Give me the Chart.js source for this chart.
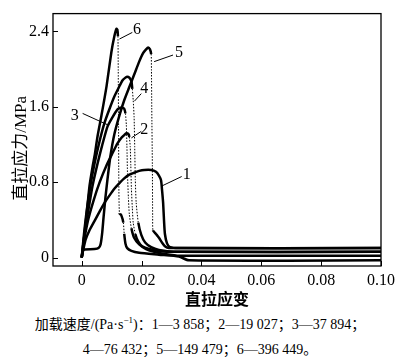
<!DOCTYPE html>
<html>
<head>
<meta charset="utf-8">
<script src="https://cdn.jsdelivr.net/npm/chart.js@4.4.0/dist/chart.umd.min.js"></script>
<style>
  html, body { margin: 0; padding: 0; background: #fff; }
  #wrap { position: relative; width: 400px; height: 358px; }
  #c { position: absolute; left: 0; top: 0; }
  .cap {
    position: absolute; left: 0; width: 400px; text-align: center;
    font: 14px 'Liberation Serif', 'Noto Sans CJK SC', serif;
    line-height: 18px; color: #000; white-space: nowrap;
  }
  .cap sup { font-size: 9px; line-height: 0; vertical-align: 6px; }
</style>
</head>
<body>
<div id="wrap">
  <canvas id="c" width="400" height="312" style="width:400px;height:312px"></canvas>
  <div class="cap" style="top:316px">加载速度/(Pa·s<sup>−1</sup>)：1—3 858；2—19 027；3—37 894；</div>
  <div class="cap" style="top:341px">4—76 432；5—149 479；6—396 449。</div>
</div>
<script>
// ── Axis ticks ────────────────────────────────────────────────────────────────
const X_TICKS  = [0, 0.02, 0.04, 0.06, 0.08, 0.10];
const X_LABELS = ['0', '0.02', '0.04', '0.06', '0.08', '0.10'];
const Y_TICKS  = [0, 0.8, 1.6, 2.4];
const Y_LABELS = ['0', '0.8', '1.6', '2.4'];

// ── Curves (strain, stress MPa) ──────────────────────────────────────────────
const strain1 = [0, 0.0007, 0.0013, 0.0026, 0.0043, 0.006, 0.0076, 0.0093, 0.0109, 0.0126, 0.0142, 0.0159, 0.0175, 0.0192, 0.0209, 0.0232, 0.0248, 0.0258, 0.0265, 0.0268, 0.0272, 0.0275, 0.0278, 0.0285, 0.0295, 0.0325, 0.1];
const stress1 = [0, 0.11, 0.19, 0.29, 0.39, 0.49, 0.58, 0.66, 0.73, 0.79, 0.84, 0.88, 0.90, 0.92, 0.93, 0.93, 0.91, 0.87, 0.82, 0.73, 0.58, 0.39, 0.25, 0.15, 0.11, 0.10, 0.10];

const strain2 = [0, 0.0007, 0.0013, 0.0023, 0.004, 0.006, 0.0083, 0.0103, 0.0119, 0.0132, 0.0142, 0.0149, 0.0156, 0.0159, 0.0162, 0.0164, 0.0166, 0.0169, 0.0172, 0.0179, 0.0189, 0.0202, 0.0225, 0.0258, 0.0308, 0.1];
const stress2 = [0, 0.15, 0.27, 0.42, 0.61, 0.80, 0.98, 1.11, 1.21, 1.27, 1.30, 1.32, 1.31, 1.28, 1.18, 0.98, 0.73, 0.53, 0.37, 0.25, 0.17, 0.12, 0.09, 0.07, 0.06, 0.06];

const strain3 = [0, 0.0007, 0.0013, 0.0023, 0.0036, 0.0053, 0.0069, 0.0086, 0.0103, 0.0119, 0.0129, 0.0136, 0.0142, 0.0146, 0.0149, 0.0151, 0.0153, 0.0156, 0.0159, 0.0166, 0.0175, 0.0192, 0.0215, 0.0242, 0.0275, 0.0325, 0.1];
const stress3 = [0, 0.19, 0.33, 0.52, 0.76, 1.00, 1.20, 1.39, 1.49, 1.57, 1.59, 1.59, 1.58, 1.53, 1.41, 1.18, 0.88, 0.63, 0.46, 0.31, 0.21, 0.14, 0.09, 0.06, 0.04, 0.02, 0.02];

const strain4 = [0, 0.0005, 0.001, 0.0018, 0.003, 0.0043, 0.006, 0.0076, 0.0093, 0.0109, 0.0123, 0.0136, 0.0146, 0.0152, 0.0159, 0.0166, 0.0169, 0.0172, 0.0175, 0.0177, 0.0179, 0.0182, 0.0189, 0.0199, 0.0212, 0.0232, 0.0258, 0.0308, 0.1];
const stress4 = [0, 0.17, 0.32, 0.53, 0.78, 1.00, 1.24, 1.43, 1.58, 1.71, 1.80, 1.88, 1.91, 1.92, 1.91, 1.87, 1.79, 1.67, 1.49, 1.18, 0.83, 0.58, 0.37, 0.24, 0.16, 0.11, 0.08, 0.06, 0.06];

const strain5 = [0, 0.0003, 0.001, 0.0043, 0.0056, 0.0063, 0.0068, 0.0073, 0.0079, 0.0086, 0.0096, 0.0109, 0.0126, 0.0142, 0.0159, 0.0175, 0.0192, 0.0205, 0.0215, 0.0222, 0.0228, 0.0232, 0.0233, 0.0234, 0.0236, 0.0237, 0.0238, 0.0248, 0.0258, 0.0268, 0.0278, 0.0291, 0.1];
const stress5 = [0, 0.07, 0.086, 0.09, 0.10, 0.14, 0.25, 0.43, 0.63, 0.83, 1.08, 1.31, 1.51, 1.67, 1.81, 1.94, 2.08, 2.17, 2.21, 2.23, 2.21, 2.16, 1.99, 1.59, 0.98, 0.43, 0.29, 0.25, 0.21, 0.16, 0.12, 0.10, 0.10];

const strain6 = [0, 0.0007, 0.0017, 0.0026, 0.0036, 0.0043, 0.0053, 0.0066, 0.0083, 0.0099, 0.0109, 0.0116, 0.0119, 0.0121, 0.0122, 0.0123, 0.0124, 0.0126, 0.0132, 0.0139, 0.0142, 0.0146, 0.0152, 0.0166, 0.0192, 0.0258, 0.0325, 0.0358, 0.1];
const stress6 = [0, 0.19, 0.48, 0.76, 0.96, 1.08, 1.29, 1.51, 1.82, 2.18, 2.35, 2.43, 2.42, 2.35, 1.99, 1.39, 0.78, 0.47, 0.45, 0.37, 0.25, 0.15, 0.10, 0.07, 0.05, 0.03, 0.01, -0.03, -0.03];

const CURVE_STRAIN = [strain1, strain2, strain3, strain4, strain5, strain6];
const CURVE_STRESS = [stress1, stress2, stress3, stress4, stress5, stress6];
const CURVE_NAMES  = ['1', '2', '3', '4', '5', '6'];

// ── Curve number labels: text anchor + leader line, in data units ────────────
const CALLOUTS = [
  { name: '1', tx: 0.0351,  ty: 0.88, from: [0.0268, 0.76], to: [0.0334, 0.86] },
  { name: '2', tx: 0.0209,  ty: 1.36, from: [0.0166, 1.27], to: [0.0199, 1.34] },
  { name: '3', tx: -0.0023, ty: 1.51, from: [0.0003, 1.53], to: [0.0086, 1.41] },
  { name: '4', tx: 0.0209,  ty: 1.79, from: [0.0176, 1.66], to: [0.0199, 1.74] },
  { name: '5', tx: 0.0325,  ty: 2.17, from: [0.0242, 2.08], to: [0.0305, 2.15] },
  { name: '6', tx: 0.0185,  ty: 2.42, from: [0.0126, 2.32], to: [0.0169, 2.39] },
];

const SERIF = "'Liberation Serif', 'Noto Sans CJK SC', serif";

// drops after the peak are recorded as sparse dots
function isDrop(c) {
  if (c.datasetIndex === 0) return false;
  return (c.p0.parsed.y - c.p1.parsed.y) > 0.1 && (c.p1.parsed.x - c.p0.parsed.x) < 0.0008;
}

const frameAndTicks = {
  id: 'frameAndTicks',
  afterDraw(chart) {
    const { ctx, chartArea: a, scales: { x, y } } = chart;
    ctx.save();
    ctx.strokeStyle = '#000';
    ctx.lineWidth = 1.3;
    ctx.strokeRect(a.left, a.top, a.right - a.left, a.bottom - a.top);
    ctx.lineWidth = 1;
    ctx.beginPath();
    X_TICKS.forEach(v => {
      const px = Math.round(x.getPixelForValue(v)) + 0.5;
      ctx.moveTo(px, a.bottom); ctx.lineTo(px, a.bottom - 5);
    });
    Y_TICKS.forEach(v => {
      const py = Math.round(y.getPixelForValue(v)) + 0.5;
      ctx.moveTo(a.left, py); ctx.lineTo(a.left + 5, py);
    });
    ctx.stroke();

    // curve callouts
    ctx.font = '16px ' + SERIF;
    ctx.fillStyle = '#000';
    ctx.textAlign = 'center';
    ctx.textBaseline = 'middle';
    CALLOUTS.forEach(c => {
      ctx.beginPath();
      ctx.moveTo(x.getPixelForValue(c.from[0]), y.getPixelForValue(c.from[1]));
      ctx.lineTo(x.getPixelForValue(c.to[0]), y.getPixelForValue(c.to[1]));
      ctx.stroke();
      ctx.fillText(c.name, x.getPixelForValue(c.tx), y.getPixelForValue(c.ty));
    });
    ctx.restore();
  }
};

new Chart(document.getElementById('c'), {
  type: 'line',
  data: {
    datasets: CURVE_NAMES.map((n, i) => ({
      label: n,
      data: CURVE_STRAIN[i].map((s, k) => ({ x: s, y: CURVE_STRESS[i][k] })),
      borderColor: '#000',
      borderWidth: 2.5,
      pointRadius: 0,
      tension: 0.2,
      fill: false,
      segment: {
        borderWidth: c => isDrop(c) ? 1 : undefined,
        borderDash: c => isDrop(c) ? [1.5, 1.5] : undefined,
      },
    })),
  },
  options: {
    responsive: false,
    animation: false,
    layout: { padding: { top: 1, right: 15, left: 0, bottom: 0 } },
    plugins: { legend: { display: false }, tooltip: { enabled: false } },
    scales: {
      x: {
        type: 'linear',
        min: -0.0096,
        max: 0.1,
        afterBuildTicks: s => { s.ticks = X_TICKS.map(v => ({ value: v })); },
        afterFit: s => { s.height = 46; },
        grid: { display: false, drawTicks: false },
        border: { display: false },
        ticks: {
          autoSkip: false, maxRotation: 0, padding: 5, color: '#000',
          font: { family: SERIF, size: 16 },
          callback: (v, i) => X_LABELS[i],
        },
        title: {
          display: true, text: '直拉应变', color: '#000',
          font: { family: SERIF, size: 16, weight: 'bold' },
          padding: { top: 0, bottom: 2 },
        },
      },
      y: {
        type: 'linear',
        min: -0.09,
        max: 2.59,
        afterBuildTicks: s => { s.ticks = Y_TICKS.map(v => ({ value: v })); },
        afterFit: s => { s.width = 53; },
        grid: { display: false, drawTicks: false },
        border: { display: false },
        ticks: {
          autoSkip: false, padding: 4, color: '#000',
          font: { family: SERIF, size: 16 },
          callback: (v, i) => Y_LABELS[i],
        },
        title: {
          display: true, text: '直拉应力/MPa\u2002\u2002', color: '#000',
          font: { family: SERIF, size: 17 },
          padding: { top: 11, bottom: 0 },
        },
      },
    },
  },
  plugins: [frameAndTicks],
});
</script>
</body>
</html>
